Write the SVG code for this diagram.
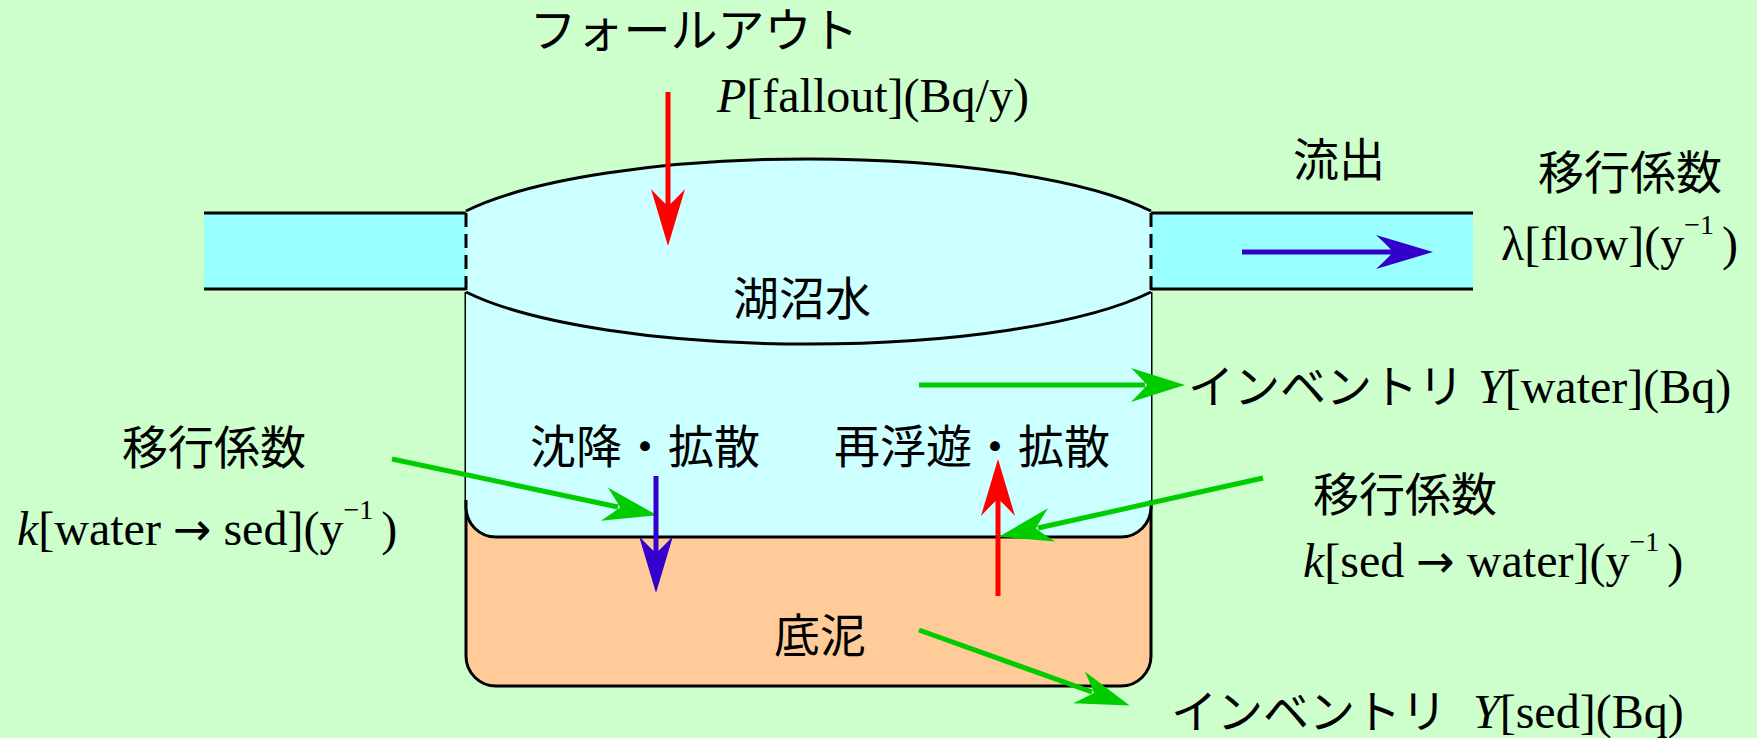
<svg xmlns="http://www.w3.org/2000/svg" width="1757" height="738" viewBox="0 0 1757 738">
  <style>
    .jp { font-family: "Noto Sans CJK JP", "Noto Sans", sans-serif; font-size: 46px; fill: #000; }
    .mth { font-family: "Liberation Serif", "Times New Roman", serif; font-size: 48px; fill: #000; }
    .it { font-style: italic; }
    .sup { font-size: 28px; }
    .arr { font-family: "DejaVu Sans", sans-serif; font-size: 46px; }
    .edge { fill: none; stroke: #000; stroke-width: 3; }
    .dash { fill: none; stroke: #000; stroke-width: 3; stroke-dasharray: 14 7; }
    .red { fill: none; stroke: #FF0000; stroke-width: 5; }
    .blue { fill: none; stroke: #3300CC; stroke-width: 5; }
    .green { fill: none; stroke: #00CC00; stroke-width: 5; }
  </style>
  <defs>
    <!-- barbed arrowheads; refX sits at the notch so the shaft ends inside the head -->
    <marker id="headRed" viewBox="-60 -20 64 40" refX="-40" refY="0" markerWidth="64" markerHeight="40" markerUnits="userSpaceOnUse" orient="auto">
      <path d="M0,0 L-57,-17 Q-44,-5 -40,0 Q-44,5 -57,17 Z" fill="#FF0000"/>
    </marker>
    <marker id="headBlue" viewBox="-60 -20 64 40" refX="-40" refY="0" markerWidth="64" markerHeight="40" markerUnits="userSpaceOnUse" orient="auto">
      <path d="M0,0 L-57,-17 Q-44,-5 -40,0 Q-44,5 -57,17 Z" fill="#3300CC"/>
    </marker>
    <marker id="headGreen" viewBox="-60 -20 64 40" refX="-40" refY="0" markerWidth="64" markerHeight="40" markerUnits="userSpaceOnUse" orient="auto">
      <path d="M0,0 L-54,-17 Q-42,-5 -38,0 Q-42,5 -54,17 Z" fill="#00CC00"/>
    </marker>
  </defs>

  <rect x="0" y="0" width="1757" height="738" fill="#CCFFCC"/>

  <!-- inflow pipe -->
  <g id="pipe-in">
    <rect x="204" y="213" width="262" height="76" fill="#99FFFF"/>
    <line x1="204" y1="213" x2="466" y2="213" class="edge"/>
    <line x1="204" y1="289" x2="466" y2="289" class="edge"/>
  </g>

  <!-- outflow pipe -->
  <g id="pipe-out">
    <rect x="1151" y="213" width="322" height="76" fill="#99FFFF"/>
    <line x1="1151" y1="213" x2="1473" y2="213" class="edge"/>
    <line x1="1151" y1="289" x2="1473" y2="289" class="edge"/>
  </g>

  <!-- lake basin: sediment layer below the water body -->
  <g id="sediment">
    <path d="M466,480 L466,656 A30,30 0 0,0 496,686 L1121,686 A30,30 0 0,0 1151,656 L1151,480 Z" fill="#FFCC99"/>
    <path d="M466,292 L466,656 A30,30 0 0,0 496,686 L1121,686 A30,30 0 0,0 1151,656 L1151,292" class="edge"/>
  </g>

  <g id="lake-water">
    <path d="M466,211 A381.5,93 0 0,1 1151,211 L1151,507 A30,30 0 0,1 1121,537 L496,537 A30,30 0 0,1 466,507 Z" fill="#CCFFFF"/>
    <path d="M466,211 A381.5,93 0 0,1 1151,211" class="edge"/>
    <path d="M466,292 A381.5,93 0 0,0 1151,292" class="edge"/>
    <path d="M466,500 L466,507 A30,30 0 0,0 496,537 L1121,537 A30,30 0 0,0 1151,507 L1151,500" class="edge"/>
    <line x1="466" y1="213" x2="466" y2="292" class="dash"/>
    <line x1="1151" y1="213" x2="1151" y2="292" class="dash"/>
  </g>

  <!-- flows -->
  <g id="connectors">
    <path d="M668,92 L668,206" class="red" marker-end="url(#headRed)"/>
    <path d="M1242,252 L1393,252" class="blue" marker-end="url(#headBlue)"/>
    <path d="M919,385 L1145,385" class="green" marker-end="url(#headGreen)"/>
    <path d="M392,459 L618,507" class="green" marker-end="url(#headGreen)"/>
    <path d="M656,476 L656,553" class="blue" marker-end="url(#headBlue)"/>
    <path d="M998,596 L998,499" class="red" marker-end="url(#headRed)"/>
    <path d="M1263,478 L1038,528" class="green" marker-end="url(#headGreen)"/>
    <path d="M919,630 L1092,692" class="green" marker-end="url(#headGreen)"/>
  </g>

  <!-- labels -->
  <g id="label-fallout">
    <text x="694" y="47" class="jp" text-anchor="middle" style="font-size:47px">フォールアウト</text>
    <text x="717" y="112" class="mth"><tspan class="it">P</tspan>[fallout](Bq/y)</text>
  </g>
  <g id="label-outflow">
    <text x="1339" y="176" class="jp" text-anchor="middle">流出</text>
    <text x="1630" y="189" class="jp" text-anchor="middle">移行係数</text>
    <text x="1501" y="260" class="mth">λ[flow](y<tspan class="sup" dy="-26">−1</tspan><tspan dy="26" dx="8">)</tspan></text>
  </g>
  <g id="label-water">
    <text x="802" y="315" class="jp" text-anchor="middle">湖沼水</text>
    <text x="1188" y="403" class="jp">インベントリ</text>
    <text x="1478" y="403" class="mth"><tspan class="it">Y</tspan>[water](Bq)</text>
  </g>
  <g id="label-settling">
    <text x="645" y="463" class="jp" text-anchor="middle">沈降・拡散</text>
    <text x="214" y="464" class="jp" text-anchor="middle">移行係数</text>
    <text x="17" y="545" class="mth"><tspan class="it">k</tspan>[water <tspan class="arr">→</tspan> sed](y<tspan class="sup" dy="-26">−1</tspan><tspan dy="26" dx="8">)</tspan></text>
  </g>
  <g id="label-resuspension">
    <text x="972" y="463" class="jp" text-anchor="middle">再浮遊・拡散</text>
    <text x="1405" y="511" class="jp" text-anchor="middle">移行係数</text>
    <text x="1303" y="577" class="mth"><tspan class="it">k</tspan>[sed <tspan class="arr">→</tspan> water](y<tspan class="sup" dy="-26">−1</tspan><tspan dy="26" dx="8">)</tspan></text>
  </g>
  <g id="label-sediment">
    <text x="820" y="652" class="jp" text-anchor="middle">底泥</text>
    <text x="1171" y="728" class="jp">インベントリ</text>
    <text x="1473" y="728" class="mth"><tspan class="it">Y</tspan>[sed](Bq)</text>
  </g>
</svg>
